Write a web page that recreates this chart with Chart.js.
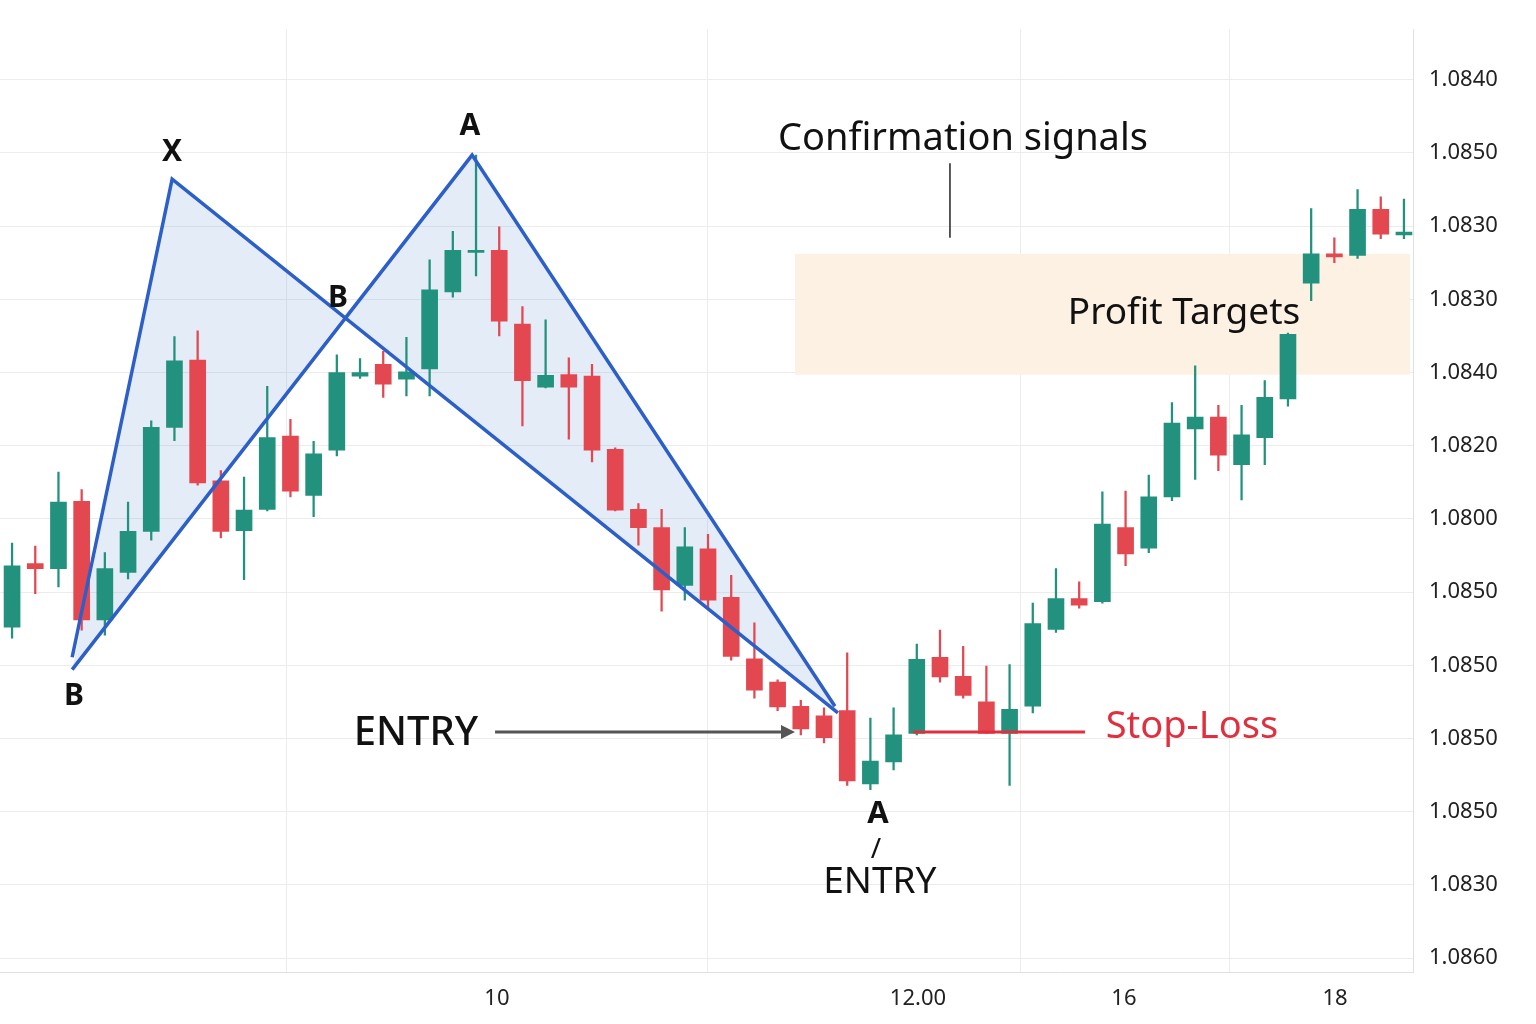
<!DOCTYPE html>
<html><head><meta charset="utf-8">
<script src="https://cdn.jsdelivr.net/npm/chart.js@4.4.1/dist/chart.umd.min.js"></script>
<style>html,body{margin:0;padding:0;background:#fff}#w{width:1536px;height:1024px}</style>
</head><body><div id="w"><canvas id="c" width="1536" height="1024" style="width:1536px;height:1024px"></canvas></div>
<script>
const opens  = [4.52,5.39,5.32,6.24,4.62,5.27,5.83,7.25,8.17,6.52,5.84,6.13,7.13,6.32,6.94,7.95,8.11,7.91,8.05,9.10,9.64,9.67,8.66,7.80,7.97,7.95,6.95,6.13,5.88,5.09,5.59,4.93,4.09,3.77,3.44,3.31,3.38,2.38,2.68,3.07,4.11,3.85,3.50,3.07,3.44,4.49,4.91,4.87,5.88,5.60,6.30,7.23,7.39,6.74,7.11,7.64,9.22,9.62,9.60,10.23,9.88];
const closes = [5.36,5.32,6.23,4.62,5.32,5.83,7.25,8.16,6.49,5.83,6.12,7.11,6.38,6.89,8.00,8.00,7.84,8.01,9.13,9.67,9.67,8.70,7.89,7.96,7.80,6.94,6.12,5.88,5.03,5.62,4.89,4.12,3.66,3.43,3.13,3.01,2.42,2.69,3.05,4.08,3.84,3.59,3.07,3.40,4.57,4.91,4.82,5.93,5.52,6.30,7.31,7.39,6.87,7.15,7.66,8.52,9.62,9.58,10.23,9.89,9.92];
const highs  = [5.67,5.63,6.64,6.40,5.54,6.23,7.34,8.49,8.57,6.66,6.57,7.81,7.36,7.06,8.24,8.19,8.29,8.48,9.54,9.93,10.97,9.99,8.90,8.72,8.20,8.11,6.97,6.21,6.13,5.88,5.79,5.23,4.58,3.80,3.52,3.42,4.17,3.28,3.42,4.29,4.48,4.26,3.99,4.01,4.85,5.32,5.14,6.37,6.38,6.60,7.59,8.09,7.55,7.55,7.89,8.54,10.24,9.84,10.50,10.40,10.37];
const lows   = [4.37,4.98,5.07,4.48,4.41,5.18,5.71,7.07,6.46,5.74,5.17,6.11,6.30,6.03,6.86,7.92,7.66,7.68,7.68,9.03,9.32,8.50,7.27,7.79,7.09,6.78,6.11,5.64,4.74,4.89,4.78,4.07,3.55,3.38,3.05,2.94,2.36,2.30,2.57,3.05,3.77,3.55,3.07,2.36,3.35,4.45,4.78,4.85,5.36,5.54,6.25,6.54,6.66,6.26,6.74,7.54,8.98,9.50,9.56,9.83,9.83];
const yTickLabels = ["1.0840","1.0850","1.0830","1.0830","1.0840","1.0820","1.0800","1.0850","1.0850","1.0850","1.0850","1.0830","1.0860"];
const xTickPos = [20.9,39.05,47.93,57.03];
const xTickLabels = ["10","12.00","16","18"];
const legXA = [{x:2.59,y:4.11},{x:6.90,y:10.64},{x:35.6,y:3.35}];
const legBA = [{x:2.59,y:3.94},{x:19.83,y:10.97},{x:35.47,y:3.44}];
const cross = {x:14.27,y:8.75};
const profitBox = {x0:33.75,x1:60.26,y0:7.97,y1:9.62};

const GREEN='#22917d', RED='#e34850';
const up = opens.map((o,i)=>closes[i]>=o);
const col = up.map(u=>u?GREEN:RED);
const bodies = opens.map((o,i)=>({x:i,y:[o,closes[i]]}));
const wicks = opens.map((o,i)=>({x:i,y:[lows[i],highs[i]]}));

const F='"Noto Sans", Roboto, sans-serif';
const deco = {
 id:'deco',
 beforeDatasetsDraw(ch){
  const {ctx,scales:{x,y}}=ch; const P=(a,b)=>[x.getPixelForValue(a),y.getPixelForValue(b)];
  ctx.save();
  const [bx0,by0]=P(profitBox.x0,profitBox.y1),[bx1,by1]=P(profitBox.x1,profitBox.y0);
  ctx.fillStyle='#fdf1e4'; ctx.fillRect(bx0,by0,bx1-bx0,by1-by0);
  ctx.fillStyle='rgba(120,160,220,0.2)';
  const polys=[[legBA[0],legXA[1],cross],[cross,legBA[1],legBA[2],legXA[2]]];
  polys.forEach(pts=>{ctx.beginPath();pts.forEach((p,i)=>{const [px,py]=P(p.x,p.y);i?ctx.lineTo(px,py):ctx.moveTo(px,py);});ctx.closePath();ctx.fill();});
  ctx.restore();
 },
 afterDatasetsDraw(ch){
  const {ctx,scales:{x,y}}=ch; const P=(a,b)=>[x.getPixelForValue(a),y.getPixelForValue(b)];
  ctx.save(); ctx.textAlign='center'; ctx.textBaseline='middle';
  const T=(t,a,b,size,color,weight)=>{const [px,py]=P(a,b);ctx.font=(weight||'normal')+' '+size+'px '+F;ctx.fillStyle=color||'#111';ctx.fillText(t,px,py);};
  T('X',6.90,11.0,30,'#111','bold');
  T('A',19.74,11.36,30,'#111','bold');
  T('B',14.05,9.01,30,'#111','bold');
  T('B',2.67,3.58,30,'#111','bold');
  T('Confirmation signals',40.99,11.19,38,'#111');
  T('Profit Targets',50.52,8.81,37,'#111');
  T('ENTRY',17.41,3.06,40,'#111','500');
  T('A',37.33,1.96,31,'#111','bold');
  T('/',37.24,1.47,28,'#111');
  T('ENTRY',37.41,1.03,37,'#111');
  T('Stop-Loss',50.86,3.15,38,'#e0303f');
  let [a1,b1]=P(40.43,10.86),[a2,b2]=P(40.43,9.84);
  ctx.strokeStyle='#222';ctx.lineWidth=1.5;ctx.beginPath();ctx.moveTo(a1,b1);ctx.lineTo(a2,b2);ctx.stroke();
  [a1,b1]=P(20.82,3.09);[a2,b2]=P(33.75,3.09);
  ctx.strokeStyle='#555';ctx.lineWidth=3;ctx.beginPath();ctx.moveTo(a1,b1);ctx.lineTo(a2-12,b2);ctx.stroke();
  ctx.fillStyle='#555';ctx.beginPath();ctx.moveTo(a2,b2);ctx.lineTo(a2-14,b2-7);ctx.lineTo(a2-14,b2+7);ctx.closePath();ctx.fill();
  [a1,b1]=P(38.84,3.09);[a2,b2]=P(46.25,3.09);
  ctx.strokeStyle='#e0303f';ctx.lineWidth=3;ctx.beginPath();ctx.moveTo(a1,b1);ctx.lineTo(a2,b2);ctx.stroke();
  ctx.restore();
 }
};

new Chart(document.getElementById('c'),{
 type:'bar',
 data:{datasets:[
  {type:'bar',data:wicks,backgroundColor:col,barThickness:1.6,order:3},
  {type:'bar',data:bodies,backgroundColor:col,barThickness:16,order:2},
  {type:'line',data:legXA,borderColor:'#2d5fc9',borderWidth:3.5,pointRadius:0,fill:false,order:1,tension:0},
  {type:'line',data:legBA,borderColor:'#2d5fc9',borderWidth:3.5,pointRadius:0,fill:false,order:1,tension:0}
 ]},
 options:{
  responsive:false,maintainAspectRatio:false,animation:false,devicePixelRatio:1,grouped:false,
  layout:{padding:0},
  plugins:{legend:{display:false},tooltip:{enabled:false}},
  scales:{
   x:{type:'linear',min:-0.52,max:60.39,offset:false,
      afterBuildTicks(s){s.ticks=xTickPos.map(v=>({value:v}));},
      afterFit(s){s.height=52;},
      ticks:{callback:(v,i)=>xTickLabels[i],font:{size:22,family:F},color:'#222',maxRotation:0,autoSkip:false,padding:14},
      grid:{color:'#ececec',drawTicks:false},border:{color:'#e0e0e0'}},
   y:{type:'linear',position:'right',min:-0.19,max:12.69,
      afterBuildTicks(s){s.ticks=yTickLabels.map((_,i)=>({value:12-i}));},
      afterFit(s){s.width=123;},
      ticks:{callback:(v)=>yTickLabels[12-v],font:{size:22,family:F},color:'#222',padding:16,autoSkip:false},
      grid:{color:'#ececec',drawTicks:false},border:{color:'#e0e0e0'}}
  }
 },
 plugins:[deco]
});
</script></body></html>
